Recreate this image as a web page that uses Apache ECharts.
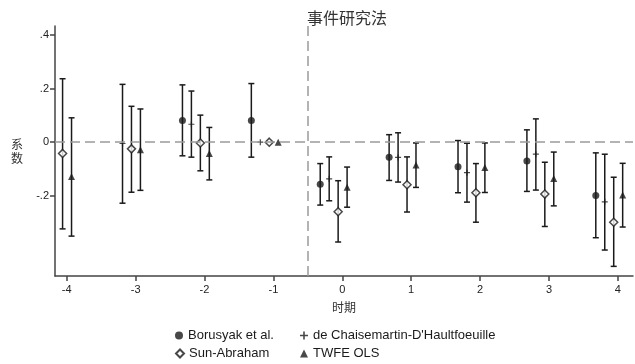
<!DOCTYPE html>
<html>
<head>
<meta charset="utf-8">
<script src="https://cdn.jsdelivr.net/npm/echarts@6/dist/echarts.min.js"></script>
<style>
  html, body { margin: 0; padding: 0; background: #fff; }
  #chart { width: 635px; height: 364px; }
</style>
</head>
<body>
<div id="chart"></div>
<script>
  // 时期
  const periods = [-4, -3, -2, -1, 0, 1, 2, 3, 4];
  const yTicks = [0.4, 0.2, 0, -0.2];

  // Borusyak et al.
  const borEst = [null, null, 0.081, 0.081, -0.157, -0.056, -0.092, -0.070, -0.199];
  const borHi  = [null, null, 0.214, 0.219, -0.080, 0.028, 0.006, 0.046, -0.040];
  const borLo  = [null, null, -0.051, -0.056, -0.235, -0.143, -0.189, -0.184, -0.357];

  // de Chaisemartin-D'Haultfoeuille
  const dcdhEst = [null, -0.005, 0.067, 0, -0.137, -0.057, -0.114, -0.045, -0.223];
  const dcdhHi  = [null, 0.216, 0.191, 0, -0.055, 0.035, -0.004, 0.087, -0.045];
  const dcdhLo  = [null, -0.228, -0.056, 0, -0.219, -0.149, -0.224, -0.179, -0.403];

  // Sun-Abraham
  const saEst = [-0.042, -0.025, -0.003, 0, -0.260, -0.159, -0.189, -0.194, -0.299];
  const saHi  = [0.237, 0.134, 0.101, 0, -0.144, -0.055, -0.080, -0.075, -0.131];
  const saLo  = [-0.324, -0.187, -0.107, 0, -0.373, -0.261, -0.299, -0.315, -0.464];

  // TWFE OLS
  const twfeEst = [-0.128, -0.028, -0.042, 0, -0.168, -0.085, -0.095, -0.136, -0.197];
  const twfeHi  = [0.091, 0.124, 0.055, 0, -0.093, -0.003, -0.003, -0.037, -0.079];
  const twfeLo  = [-0.351, -0.180, -0.141, 0, -0.243, -0.169, -0.188, -0.238, -0.317];

  const ink = '#1a1a1a';
  const latin = "'Liberation Sans', Arial, sans-serif";
  const cjk = "'Noto Sans CJK SC', sans-serif";

  const methods = [
    { name: 'Borusyak et al.', est: borEst, lo: borLo, hi: borHi, shift: -0.32,
      symbol: 'circle', size: 7, style: { color: ink } },
    { name: "de Chaisemartin-D'Haultfoeuille", est: dcdhEst, lo: dcdhLo, hi: dcdhHi, shift: -0.19,
      symbol: 'path://M4,0H6V4H10V6H6V10H4V6H0V4H4Z', size: 6, style: { color: ink } },
    { name: 'Sun-Abraham', est: saEst, lo: saLo, hi: saHi, shift: -0.06,
      symbol: 'diamond', size: 8, style: { color: '#fff', borderColor: ink, borderWidth: 1.5 } },
    { name: 'TWFE OLS', est: twfeEst, lo: twfeLo, hi: twfeHi, shift: 0.07,
      symbol: 'triangle', size: 7, style: { color: ink } }
  ];

  function errorBars(params, api) {
    const x = api.value(0);
    const top = api.coord([x, api.value(2)]);
    const bot = api.coord([x, api.value(1)]);
    const cap = 3;
    const line = { stroke: ink, lineWidth: 1.5 };
    return {
      type: 'group',
      children: [
        { type: 'line', shape: { x1: top[0], y1: top[1], x2: bot[0], y2: bot[1] }, style: line },
        { type: 'line', shape: { x1: top[0] - cap, y1: top[1], x2: top[0] + cap, y2: top[1] }, style: line },
        { type: 'line', shape: { x1: bot[0] - cap, y1: bot[1], x2: bot[0] + cap, y2: bot[1] }, style: line }
      ]
    };
  }

  const series = [];
  methods.forEach(function (m, k) {
    const bars = [];
    const pts = [];
    periods.forEach(function (p, i) {
      if (m.est[i] === null) return;
      if (m.hi[i] !== m.lo[i]) bars.push([p + m.shift, m.lo[i], m.hi[i]]);
      pts.push([p + m.shift, m.est[i]]);
    });
    series.push({
      name: 'ci' + k,
      type: 'custom',
      renderItem: errorBars,
      data: bars,
      z: 2,
      silent: true
    });
    series.push({
      name: m.name,
      type: 'scatter',
      symbol: m.symbol,
      symbolSize: m.size,
      itemStyle: m.style,
      data: pts,
      z: 3
    });
  });

  // 参考线
  series.push({
    name: 'ref',
    type: 'line',
    data: [],
    markLine: {
      silent: true,
      symbol: 'none',
      label: { show: false },
      lineStyle: { color: '#9a9a9a', type: [10, 5], width: 1.5 },
      data: [{ yAxis: 0 }, { xAxis: -0.5 }]
    },
    z: 1
  });

  const legendPos = [
    { left: 175, top: 329 },
    { left: 300, top: 329 },
    { left: 175, top: 347 },
    { left: 300, top: 347 }
  ];
  const legends = methods.map(function (m, k) {
    return {
      data: [m.name],
      left: legendPos[k].left,
      top: legendPos[k].top,
      itemWidth: 8,
      itemHeight: 8,
      itemGap: 0,
      padding: 0,
      selectedMode: false,
      textStyle: { fontFamily: latin, fontSize: 13, color: ink }
    };
  });

  const chart = echarts.init(document.getElementById('chart'), null, { renderer: 'canvas' });
  chart.setOption({
    animation: false,
    backgroundColor: '#fff',
    title: {
      text: '事件研究法',
      left: 342,
      textAlign: 'center',
      top: 5,
      textStyle: { fontFamily: cjk, fontSize: 16, fontWeight: 'normal', color: '#333' }
    },
    legend: legends,
    grid: { left: 55, right: 2, top: 26, bottom: 88 },
    xAxis: {
      type: 'value',
      min: -4.17,
      max: 4.22,
      name: '时期',
      nameLocation: 'middle',
      nameGap: 25,
      nameTextStyle: { fontFamily: cjk, fontSize: 12, color: '#333' },
      splitLine: { show: false },
      axisLine: { onZero: false, lineStyle: { color: '#444', width: 1.5 } },
      axisTick: { customValues: periods, length: 5, lineStyle: { color: '#444', width: 1.5 } },
      axisLabel: { customValues: periods, fontFamily: latin, fontSize: 11, color: '#222', margin: 8 }
    },
    yAxis: {
      type: 'value',
      min: -0.5,
      max: 0.434,
      name: '系\n数',
      nameLocation: 'middle',
      nameRotate: 0,
      nameGap: 32,
      nameTextStyle: { fontFamily: cjk, fontSize: 12, color: '#333', lineHeight: 14 },
      splitLine: { show: false },
      axisLine: { show: true, onZero: false, lineStyle: { color: '#444', width: 1.5 } },
      axisTick: { show: true, customValues: yTicks, length: 5, lineStyle: { color: '#444', width: 1.5 } },
      axisLabel: {
        customValues: yTicks,
        fontFamily: latin,
        fontSize: 11,
        color: '#222',
        margin: 6,
        formatter: function (v) { return String(v).replace('0.', '.'); }
      }
    },
    series: series
  });
</script>
</body>
</html>
